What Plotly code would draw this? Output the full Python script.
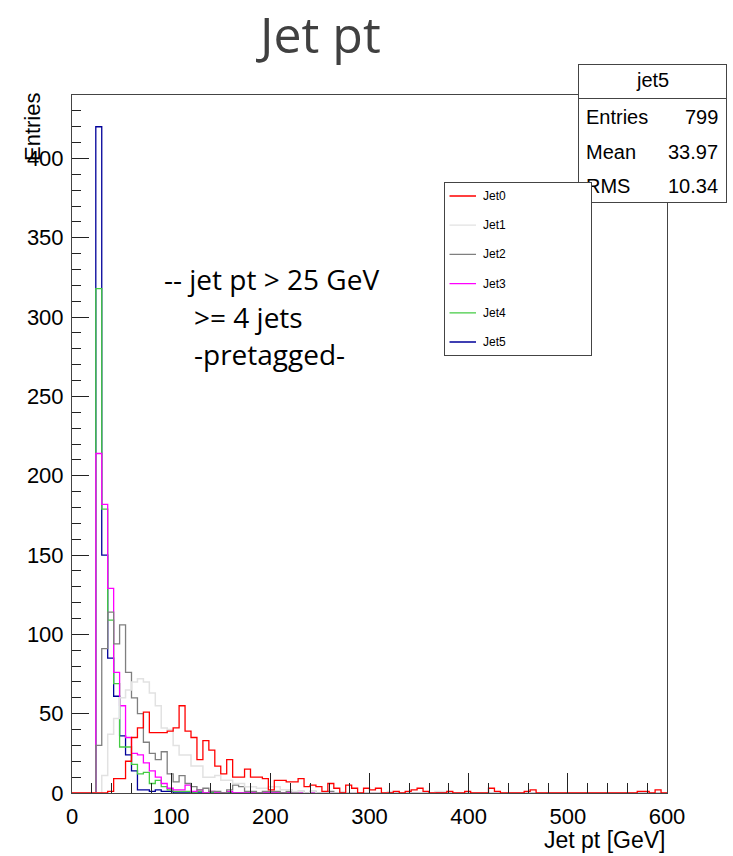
import plotly.graph_objects as go

# ---------------- data (100 bins, 6 GeV wide, 0..600 GeV) ----------------
x_min, x_max, n_bins = 0, 600, 100

jet0 = [0, 0, 0, 0, 0, 0, 1, 9, 9, 20,
        35, 41, 51, 38, 38, 38, 39, 41, 55, 39,
        35, 21, 33, 27, 17, 12, 21, 10, 10, 15,
        10, 10, 9, 2, 8, 8, 7, 7, 9, 4,
        5, 4, 1, 6, 3, 0, 5, 3, 0, 3,
        2, 3, 0, 0, 1, 0, 1, 2, 3, 1,
        0, 0, 0, 1, 0, 0, 1, 0, 0, 0,
        3, 1, 0, 0, 0, 0, 1, 2, 0, 0,
        0, 0, 0, 0, 0, 0, 0, 0, 0, 0,
        0, 0, 0, 0, 0, 1, 1, 0, 2, 0]

jet1 = [0, 0, 0, 0, 0, 11, 37, 47, 60, 65,
        70, 72, 70, 63, 55, 41, 40, 30, 24, 24,
        17, 17, 10, 10, 11, 8, 8, 6, 6, 4,
        4, 3, 3, 4, 4, 2, 2, 1, 1, 0,
        1, 0, 0, 0, 0, 1, 0, 0, 0, 0,
        0, 0, 0, 1, 0, 0, 0, 0, 0, 0,
        0, 1, 1, 0, 0, 0, 0, 0, 0, 0,
        0, 0, 0, 0, 0, 0, 0, 0, 0, 0,
        0, 0, 0, 0, 0, 0, 0, 0, 0, 0,
        0, 0, 0, 0, 0, 0, 0, 0, 0, 0]

jet2 = [0, 0, 0, 0, 30, 91, 114, 94, 106, 76,
        60, 50, 32, 25, 21, 26, 12, 7, 11, 6,
        4, 2, 3, 1, 1, 0, 2, 5, 4, 1,
        1, 0, 1, 1, 1, 0, 1, 0, 1, 0,
        1, 0, 0, 1, 0, 0, 0, 0, 0, 0,
        0, 0, 0, 0, 0, 0, 0, 0, 0, 0,
        0, 0, 0, 0, 0, 0, 0, 0, 0, 0,
        0, 0, 0, 0, 0, 0, 0, 0, 0, 0,
        0, 0, 0, 0, 0, 0, 0, 0, 0, 0,
        0, 0, 0, 0, 0, 0, 0, 0, 0, 0]

jet3 = [0, 0, 0, 0, 214, 182, 129, 76, 55, 35,
        25, 24, 19, 14, 10, 6, 3, 2, 2, 5,
        1, 2, 0, 1, 0, 0, 1, 0, 0, 0,
        0, 0, 0, 0, 0, 0, 0, 0, 0, 0,
        0, 0, 0, 0, 0, 0, 0, 0, 0, 0,
        0, 0, 0, 0, 0, 0, 0, 0, 0, 0,
        0, 0, 0, 0, 0, 0, 0, 0, 0, 0,
        0, 0, 0, 0, 0, 0, 0, 0, 0, 0,
        0, 0, 0, 0, 0, 0, 0, 0, 0, 0,
        0, 0, 0, 0, 0, 0, 0, 0, 0, 0]

jet4 = [0, 0, 0, 0, 318, 179, 109, 69, 29, 29,
        18, 12, 13, 6, 8, 4, 2, 1, 1, 1,
        0, 1, 0, 0, 0, 0, 0, 0, 0, 0,
        0, 0, 0, 0, 0, 0, 0, 0, 0, 0,
        0, 0, 0, 0, 0, 0, 0, 0, 0, 0,
        0, 0, 0, 0, 0, 0, 0, 0, 0, 0,
        0, 0, 0, 0, 0, 0, 0, 0, 0, 0,
        0, 0, 0, 0, 0, 0, 0, 0, 0, 0,
        0, 0, 0, 0, 0, 0, 0, 0, 0, 0,
        0, 0, 0, 0, 0, 0, 0, 0, 0, 0]

jet5 = [0, 0, 0, 0, 420, 150, 85, 61, 36, 24,
        14, 2, 2, 1, 2, 1, 1, 0, 0, 0,
        0, 0, 0, 0, 0, 0, 0, 0, 0, 0,
        0, 0, 0, 0, 0, 0, 0, 0, 0, 0,
        0, 0, 0, 0, 0, 0, 0, 0, 0, 0,
        0, 0, 0, 0, 0, 0, 0, 0, 0, 0,
        0, 0, 0, 0, 0, 0, 0, 0, 0, 0,
        0, 0, 0, 0, 0, 0, 0, 0, 0, 0,
        0, 0, 0, 0, 0, 0, 0, 0, 0, 0,
        0, 0, 0, 0, 0, 0, 0, 0, 0, 0]

series_names = ["Jet0", "Jet1", "Jet2", "Jet3", "Jet4", "Jet5"]
series_values = [jet0, jet1, jet2, jet3, jet4, jet5]
series_colors = ["#ff0000", "#e2e2e2", "#7f7f7f", "#ff00ff", "#44cc44", "#000099"]
series_widths = [1.3, 1.5, 1.3, 1.3, 1.3, 1.3]

stats_title = "jet5"
stats_labels = ["Entries", "Mean", "RMS"]
stats_values = ["799", "33.97", "10.34"]

note_lines = ["-- jet pt > 25 GeV", ">= 4 jets", "-pretagged-"]

# ---------------- layout geometry (pixels) ----------------
W, H = 733, 856
L, R, T, B = 72, 667, 95, 793


def px(x):
    return (x - L) / (R - L)


def py(y):
    return (B - y) / (B - T)


bw = (x_max - x_min) / n_bins
edges = [x_min + i * bw for i in range(n_bins + 1)]

fig = go.Figure()
# jet5 is drawn first (its stats box is shown), the others on top of it
draw_order = [5, 4, 3, 2, 1, 0]
for i in draw_order:
    vals = series_values[i]
    fig.add_trace(go.Scatter(
        x=edges, y=list(vals) + [vals[-1]], mode="lines",
        line=dict(color=series_colors[i], width=series_widths[i], shape="hv"),
        name=series_names[i], hoverinfo="skip", showlegend=False))

tickfont = dict(family="Liberation Sans, Arial", size=22, color="black")
fig.update_layout(
    width=W, height=H, autosize=False,
    margin=dict(l=L, r=W - R, t=T, b=H - B, pad=0),
    paper_bgcolor="white", plot_bgcolor="white",
    showlegend=False,
    xaxis=dict(range=[x_min, x_max], showgrid=False, zeroline=False,
               showline=True, linecolor="#444", linewidth=1, mirror=True,
               ticks="inside", ticklen=20, tickwidth=1, tickcolor="#222",
               tick0=0, dtick=100, tickfont=tickfont, ticklabelstandoff=4,
               minor=dict(ticks="inside", dtick=20, ticklen=10, tickwidth=1,
                          tickcolor="#222", showgrid=False)),
    yaxis=dict(range=[0, 440], showgrid=False, zeroline=False,
               showline=True, linecolor="#444", linewidth=1, mirror=True,
               ticks="inside", ticklen=17, tickwidth=1, tickcolor="#222",
               tick0=0, dtick=50, tickfont=tickfont, ticklabelstandoff=3,
               minor=dict(ticks="inside", dtick=10, ticklen=9, tickwidth=1,
                          tickcolor="#222", showgrid=False)),
)

ann = []
# title
ann.append(dict(text="Jet pt", x=px(318), y=py(34), xref="paper", yref="paper",
                showarrow=False, xanchor="center", yanchor="middle",
                font=dict(family="Open Sans", size=50, color="#404040")))
# note text
note_pos = [(162, 279), (192, 317), (192, 354)]
for t, (nx, ny) in zip(note_lines, note_pos):
    ann.append(dict(text=t, x=px(nx), y=py(ny), xref="paper", yref="paper",
                    showarrow=False, xanchor="left", yanchor="middle",
                    font=dict(family="Open Sans", size=28, color="black")))
# axis titles
ann.append(dict(text="Entries", x=px(32), y=py(127), xref="paper", yref="paper",
                showarrow=False, textangle=-90, xanchor="center", yanchor="middle",
                font=dict(family="Liberation Sans, Arial", size=22, color="black")))
ann.append(dict(text="Jet pt [GeV]", x=px(667), y=py(840), xref="paper", yref="paper",
                showarrow=False, xanchor="right", yanchor="middle",
                font=dict(family="Liberation Sans, Arial", size=23, color="black")))

# stats box: title box + body box
sx0, sx1, sy0, sy_sep, sy1 = 578, 727, 64, 99, 203
ann.append(dict(text=" ", x=px((sx0 + sx1) / 2), y=py((sy0 + sy_sep) / 2),
                xref="paper", yref="paper", showarrow=False,
                xanchor="center", yanchor="middle",
                width=sx1 - sx0 - 2, height=sy_sep - sy0 - 1,
                bgcolor="white", bordercolor="#444", borderwidth=1, borderpad=0))
ann.append(dict(text=" ", x=px((sx0 + sx1) / 2), y=py((sy_sep + sy1) / 2),
                xref="paper", yref="paper", showarrow=False,
                xanchor="center", yanchor="middle",
                width=sx1 - sx0 - 2, height=sy1 - sy_sep - 1,
                bgcolor="white", bordercolor="#444", borderwidth=1, borderpad=0))
sfont = dict(family="Liberation Sans, Arial", size=20, color="black")
ann.append(dict(text=stats_title, x=px(652), y=py(80), xref="paper", yref="paper",
                showarrow=False, xanchor="center", yanchor="middle", font=sfont))
for i, (lab, val) in enumerate(zip(stats_labels, stats_values)):
    yy = 117 + i * 34.5
    ann.append(dict(text=lab, x=px(584), y=py(yy), xref="paper", yref="paper",
                    showarrow=False, xanchor="left", yanchor="middle", font=sfont))
    ann.append(dict(text=val, x=px(720), y=py(yy), xref="paper", yref="paper",
                    showarrow=False, xanchor="right", yanchor="middle", font=sfont))

# legend box (drawn over the stats box)
lx0, lx1, ly0, ly1 = 444, 592, 182, 356
ann.append(dict(text=" ", x=px((lx0 + lx1) / 2), y=py((ly0 + ly1) / 2),
                xref="paper", yref="paper", showarrow=False,
                xanchor="center", yanchor="middle",
                width=lx1 - lx0 - 2, height=ly1 - ly0 - 2,
                bgcolor="white", bordercolor="#444", borderwidth=1, borderpad=0))
lfont = dict(family="Liberation Sans, Arial", size=12, color="black")
for i, (name, col) in enumerate(zip(series_names, series_colors)):
    yy = 196 + i * 29.2
    ann.append(dict(text=" ", x=px(476), y=py(yy), xref="paper", yref="paper",
                    showarrow=True, ax=-27, ay=0, axref="pixel", ayref="pixel",
                    arrowhead=0, arrowwidth=1.3, arrowcolor=col, standoff=0,
                    startstandoff=0, borderpad=0, font=dict(size=1)))
    ann.append(dict(text=name, x=px(481), y=py(yy), xref="paper", yref="paper",
                    showarrow=False, xanchor="left", yanchor="middle", font=lfont))

fig.update_layout(annotations=ann)
fig.write_html("out.html")
